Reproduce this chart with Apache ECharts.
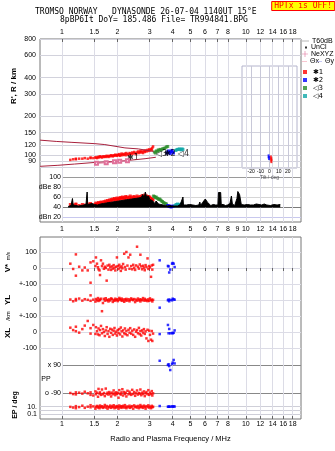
<!DOCTYPE html>
<html><head><meta charset="utf-8">
<script src="https://cdn.jsdelivr.net/npm/echarts@6/dist/echarts.min.js"></script>
<style>html,body{margin:0;padding:0;background:#fff}#c{width:335px;height:451px}</style>
</head><body><div id="c"></div>
<script>
// ---------- tick labels ----------
const freqTicks = [1,1.5,2,3,4,5,6,7,8,10,12,14,16,18];
const freqTicksDb = [1,1.5,2,3,4,5,6,7,8,9,10,12,14,16,18];
const rangeTicks = [80,90,100,120,150,200,300,400,600,800];
const dbTicks = [20,40,60,80,100];
const tiltTicks = [-20,-10,0,10,20];
const vTicks = [-100,0,100];
const ylTicks = [-100,0];
const xlTicks = [-100,0];
const ppTicks = [-90,90];
const epTicks = [0.1,1,10];

// ---------- R' panel ----------
const upperF = [0.76,0.93,1.12,1.51,1.71,2.20,2.60,3.15];
const upperR = [131,128,126,123,121,114,112,107];
const lowerF = [0.76,0.95,1.17,1.54,2.03,2.50,2.83,3.24];
const lowerR = [82,83.5,85.4,88.1,89.7,92.3,94,96.4];
const neF = [1.54,1.74,1.93,2.06,2.27];
const neR = [86.5,87.5,88.8,89.8,90.5];
const greenRF = [3.18,3.22,3.26,3.30,3.34,3.38,3.42,3.47,3.52,3.58,3.64,3.70,3.76];
const greenR = [106,104,108,107,110,109,111,110,112,113,114,116,117];
const blueRF = [3.72,3.76,3.80,3.84,3.88,3.92,3.96,4.00,4.04];
const blueR = [104,106,108,105,103,107,109,106,104];
const cyanRF = [4.15,4.20,4.25,4.30,4.35,4.40,4.45,4.50,4.55];
const cyanR = [109,110,111,111,112,111,110,112,111];
const traceLabF = [2.43,3.48,3.86,4.58];
const traceLabR = [95,103,103,103];
const traceLabTxt = ['✱1','◁3','✱2','◁4'];

// ---------- tilt inset ----------
const tiltRedX = [1.5,2,2];
const tiltRedR = [96,93,90];
const tiltBlueX = [-1,-0.5];
const tiltBlueR = [98,95];

// ---------- red echoes (trace 1) ----------
const redF = [1.11,1.15,1.19,1.19,1.24,1.29,1.33,1.38,1.43,1.43,
  1.48,1.52,1.53,1.55,1.57,1.58,1.60,1.61,1.63,1.65,
  1.67,1.69,1.71,1.73,1.75,1.77,1.79,1.81,1.83,1.85,
  1.87,1.89,1.91,1.93,1.95,1.97,1.99,2.01,2.03,2.05,
  2.07,2.09,2.11,2.13,2.15,2.18,2.20,2.22,2.24,2.27,
  2.30,2.33,2.35,2.38,2.41,2.44,2.47,2.50,2.53,2.56,
  2.59,2.62,2.65,2.67,2.70,2.73,2.76,2.79,2.82,2.85,
  2.88,2.92,2.95,2.98,3.01,3.05,3.08,3.10,3.13];
const redR = [92,93,93,94,94,94,95,94,95,96,
  95,96,96,95,97,96,97,98,97,96,
  98,97,98,97,99,98,97,99,98,100,
  99,98,100,99,101,100,99,101,100,102,
  99,101,103,100,102,101,103,100,104,102,
  101,104,103,102,105,103,106,104,102,105,
  107,104,106,108,105,107,104,108,106,109,
  107,110,108,111,109,112,110,114,117];
const redDb = [46,45,47,46,44,46,45,47,46,48,
  45,47,49,46,48,50,47,49,51,50,
  48,52,50,53,51,54,52,55,53,56,
  54,57,55,58,56,54,59,57,55,58,
  60,57,59,61,58,60,56,62,59,61,
  57,60,63,58,61,59,62,60,57,63,
  60,58,62,59,61,64,60,62,65,61,
  63,60,62,59,61,58,57,56,55];
const redV = [27,-6,85,-48,8,-15,3,-15,35,-92,
  42,12,66,27,5,-8,-15,-44,48,12,
  27,-5,8,0,-79,15,-10,20,5,-12,
  10,-4,18,2,-15,8,66,12,-6,20,
  4,-18,10,-2,25,89,6,-10,100,15,
  66,-5,83,12,-8,20,2,-12,16,133,
  8,-4,22,83,10,-8,14,2,-14,18,
  6,60,-6,12,4,-55,16,-10,20];
const redYL = [3,-8,6,-3,9,-4,5,1,29,-5,
  2,-10,6,-2,12,-6,3,-1,8,-70,
  -19,7,-4,11,-2,1,-9,4,-3,10,
  6,-12,0,-5,8,-1,4,-7,2,13,
  5,-2,9,-5,3,-11,4,-3,7,-4,
  5,-8,1,10,3,-1,6,-13,2,-4,
  9,-2,4,-9,3,-1,12,-3,7,-4,
  1,-7,4,-5,10,-1,2,-9,1];
const redXL = [27,12,33,5,-4,18,40,69,24,-10,
  44,-12,30,5,-15,22,-20,12,38,-8,
  18,0,-25,10,30,-12,6,-30,20,-5,
  15,-18,8,25,-10,2,-22,12,-6,18,
  -15,28,4,-28,10,-8,22,-14,6,-20,
  14,-4,24,-10,8,-18,16,-30,2,12,
  -8,26,-14,6,-22,10,-4,18,-12,4,
  -40,14,-56,8,-18,-48,6,-56,-10];
const redPP = [-88,-95,-84,-97,-86,-92,-80,-90,-100,-84,
  -104,-78,-96,-86,-112,-62,-92,-84,-100,-66,
  -96,-88,-108,-60,-94,-86,-98,-82,-92,-110,
  -86,-96,-72,-90,-102,-84,-94,-88,-118,-70,
  -92,-98,-84,-64,-104,-82,-94,-88,-110,-74,
  -96,-80,-92,-100,-68,-94,-82,-106,-90,-72,
  -98,-88,-92,-66,-102,-86,-94,-78,-108,-90,
  -82,-96,-70,-100,-86,-94,-76,-104,-90];
const redEP = [9,6,14,4,8,18,5,10,25,7,
  12,3,9,16,6,11,4,20,8,13,
  5,9,28,6,15,3,10,7,19,5,
  12,8,24,4,11,6,15,9,3,21,
  7,13,5,10,17,6,26,8,4,12,
  7,18,5,9,14,3,22,8,11,6,
  16,4,10,27,7,12,5,19,9,3,
  14,8,23,6,11,4,17,7,10];

// ---------- blue echoes (trace 2), lower panels ----------
const blueF = [3.40,3.77,3.80,3.83,3.88,3.97,4.00,4.05,4.10];
const blueV = [48,13,10,-28,-10,27,31,27,6];
const blueYL = [-48,-2,3,-8,1,-2,8,4,2];
const blueXL = [-13,44,-8,19,-8,-6,-8,-5,10];
const bluePP = [117,90,95,83,58,96,105,122,100];
const blueEP = [15,10,10,10,10,12,10,12,11];

// ---------- amplitude panel ----------
const blackF = [1.08,1.10,1.12,1.14,1.15,1.17,1.19,1.21,1.23,1.25,
  1.27,1.29,1.31,1.33,1.35,1.37,1.38,1.40,1.42,1.44,
  1.46,1.48,1.50,1.53,1.56,1.59,1.62,1.65,1.68,1.71,
  1.74,1.77,1.80,1.84,1.88,1.92,1.96,2.00,2.04,2.08,
  2.12,2.16,2.20,2.25,2.30,2.35,2.40,2.45,2.50,2.55,
  2.60,2.65,2.70,2.75,2.80,2.84,2.88,2.92,2.96,3.00,
  3.05,3.10,3.15,3.20,3.25,3.30,3.35,3.40,3.45,3.50,
  3.55,3.60,3.65,3.70,3.75,3.80,3.85,3.90,3.95,4.00,
  4.05,4.10,4.15,4.20,4.25,4.30,4.35,4.40,4.45,4.50,
  4.55,4.58,4.65,4.75,4.85,4.95,5.05,5.15,5.25,5.35,
  5.45,5.55,5.62,5.68,5.75,5.82,5.88,5.95,6.02,6.08,
  6.14,6.20,6.28,6.35,6.45,6.55,6.65,6.75,6.85,6.95,
  7.05,7.10,7.20,7.30,7.35,7.45,7.55,7.65,7.75,7.85,
  7.95,8.05,8.20,8.35,8.45,8.55,8.70,8.85,8.95,9.05,
  9.15,9.25,9.35,9.45,9.60,9.80,10.0,10.2,10.4,10.6,
  10.8,11.0,11.2,11.4,11.6,11.8,12.0,12.2,12.4,12.6,
  12.8,13.0,13.3,13.6,13.9,14.2,14.5,14.8,15.1,15.4];
const blackDb = [42,46,44,58,45,47,44,46,43,45,
  44,47,45,44,46,71,46,44,47,45,
  48,44,46,47,45,48,47,49,48,50,
  49,51,50,52,51,53,52,55,53,56,
  54,57,55,58,56,59,57,60,58,61,
  59,62,60,66,59,71,62,58,63,56,
  52,54,50,48,53,49,47,51,46,48,
  45,47,44,46,43,42,44,42,43,42,
  44,43,42,45,43,44,42,46,44,43,
  61,45,44,45,43,46,44,45,43,44,
  46,45,51,44,47,50,48,52,57,58,
  57,50,53,46,44,45,46,44,45,47,
  45,70,71,70,46,44,46,45,44,47,
  45,46,48,63,47,45,44,46,58,72,
  72,66,65,46,44,45,44,46,44,45,
  43,45,44,47,45,46,48,45,44,47,
  46,45,47,44,45,46,44,45,47,46];
const greenDbF = [3.15,3.18,3.22,3.25,3.28,3.32,3.36,3.40,3.44,3.48,3.52,3.56,3.60,3.65,3.70];
const greenDb = [63,62,60,61,59,58,56,57,55,53,52,50,49,48,47];
const blueDbF = [3.76,3.80,3.84,3.88,3.92,3.96,4.00,4.04];
const blueDb = [44,43,42,43,41,42,42,43];
const cyanDbF = [4.10,4.15,4.20,4.25,4.30,4.35,4.40,4.45];
const cyanDb = [43,45,46,47,45,46,44,47];

// ---------- helpers ----------
const L = Math.log10;
const XMIN = -0.1197, XMAX = 1.3003;
const RED = '#ff0000', BLUE = '#0000ff', GREEN = '#2a8c2a', CYAN = '#10a8a8';
const LIGHT = '#dcdce6', DARK = '#888888';
const FONT = 'Liberation Sans';
const lin = (fs, vs) => fs.map((f, i) => [L(f), vs[i]]);
const logb = (fs, vs) => fs.map((f, i) => [L(f), L(vs[i])]);
const fmtF = v => String(Math.round(Math.pow(10, v) * 100) / 100);
const lab = (o) => Object.assign({fontSize: 7, color: '#000', fontFamily: FONT}, o);

const grids = [
  {left: 40, right: 34, top: 39, height: 183, show: true, borderColor: '#777', borderWidth: 1}, //0 R'
  {left: 242, width: 55, top: 66, height: 102, show: true, borderColor: '#b4b4cc', borderWidth: 1}, //1 tilt
  {left: 62, right: 34, top: 177.5, height: 44.5}, //2 dB
  {left: 40, right: 34, top: 237, height: 182, show: true, borderColor: '#777', borderWidth: 1}, //3 lower frame
  {left: 40, right: 34, top: 237, height: 47}, //4 V*
  {left: 40, right: 34, top: 284, height: 32}, //5 YL
  {left: 40, right: 34, top: 316, height: 32}, //6 XL
  {left: 62, right: 34, top: 365, height: 28.3}, //7 PP
  {left: 40, right: 34, top: 406.7, height: 7.6} //8 EP
].map(g => Object.assign({outerBoundsMode: 'none', containLabel: false}, g));

const hiddenX = (gi, min) => ({type: 'value', gridIndex: gi, min: min, max: XMAX, show: false});
const xAxes = [
  {type: 'value', gridIndex: 0, position: 'top', min: XMIN, max: XMAX,
    axisLine: {show: false},
    axisTick: {show: true, inside: true, length: 3, customValues: freqTicks.map(L), lineStyle: {color: '#666'}},
    axisLabel: lab({customValues: freqTicks.map(L), formatter: fmtF, margin: 3}),
    splitLine: {show: true, lineStyle: {color: LIGHT, width: 1}}},
  {type: 'value', gridIndex: 1, min: -30, max: 30,
    axisLine: {show: false}, axisTick: {show: false, customValues: tiltTicks},
    axisLabel: lab({customValues: tiltTicks, fontSize: 5, margin: 1}),
    splitLine: {show: true, lineStyle: {color: '#c8c8d8'}},
    name: 'Tilt / deg', nameLocation: 'middle', nameGap: 7, nameTextStyle: {fontSize: 5, fontFamily: FONT}},
  {type: 'value', gridIndex: 2, position: 'bottom', min: 0, max: XMAX,
    axisLine: {show: false}, axisTick: {show: false, customValues: freqTicksDb.map(L)},
    axisLabel: lab({customValues: freqTicksDb.map(L), formatter: fmtF, margin: 4}),
    splitLine: {show: false}},
  {type: 'value', gridIndex: 3, position: 'bottom', min: XMIN, max: XMAX,
    axisLine: {show: false},
    axisTick: {show: true, inside: true, length: 3, customValues: freqTicks.map(L), lineStyle: {color: '#666'}},
    axisLabel: lab({customValues: freqTicks.map(L), formatter: fmtF, margin: 2}),
    splitLine: {show: true, lineStyle: {color: LIGHT}},
    name: 'Radio and Plasma Frequency / MHz', nameLocation: 'middle', nameGap: 16,
    nameTextStyle: {fontSize: 7.5, fontFamily: FONT, color: '#000'}},
  {type: 'value', gridIndex: 4, position: 'top', min: XMIN, max: XMAX,
    axisLine: {show: false}, axisLabel: {show: false}, splitLine: {show: false},
    axisTick: {show: true, inside: true, length: 3, customValues: freqTicks.map(L), lineStyle: {color: '#666'}}},
  hiddenX(5, XMIN), hiddenX(6, XMIN), hiddenX(7, 0), hiddenX(8, XMIN)
];

const yAxes = [
  {type: 'value', gridIndex: 0, min: 1.4812, max: 2.9031,
    axisLine: {show: false}, axisTick: {show: false, customValues: rangeTicks.map(L)},
    axisLabel: lab({customValues: rangeTicks.map(L), formatter: fmtF, margin: 4}),
    splitLine: {show: true, lineStyle: {color: '#d2d2dc'}}},
  {type: 'value', gridIndex: 1, min: 1.9008, max: 2.6933, show: false},
  {type: 'value', gridIndex: 2, min: 11, max: 100,
    axisLine: {show: false}, axisTick: {show: false, customValues: dbTicks},
    axisLabel: lab({customValues: dbTicks, margin: 1,
      formatter: v => v === 80 ? 'dBe 80' : (v === 20 ? 'dBn 20' : String(v))}),
    splitLine: {show: true, lineStyle: {color: ['#c8c8ee', '#7a7a7a', '#d6d6d6', '#d6d6d6', '#9a9a9a']}}},
  {type: 'value', gridIndex: 3, min: 0, max: 1, show: false},
  {type: 'value', gridIndex: 4, min: -100, max: 193.75,
    axisLine: {show: false}, axisTick: {show: false, customValues: vTicks},
    axisLabel: lab({customValues: vTicks, margin: 3, formatter: v => v === -100 ? '+-100' : String(v)}),
    splitLine: {show: true, lineStyle: {color: LIGHT}}},
  {type: 'value', gridIndex: 5, min: -100, max: 100,
    axisLine: {show: false}, axisTick: {show: false, customValues: ylTicks},
    axisLabel: lab({customValues: ylTicks, margin: 3, formatter: v => v === -100 ? '+-100' : String(v)}),
    splitLine: {show: true, lineStyle: {color: LIGHT}}},
  {type: 'value', gridIndex: 6, min: -100, max: 100,
    axisLine: {show: false}, axisTick: {show: false, customValues: xlTicks},
    axisLabel: lab({customValues: xlTicks, margin: 3}),
    splitLine: {show: true, lineStyle: {color: LIGHT}}},
  {type: 'value', gridIndex: 7, min: -90, max: 90,
    axisLine: {show: false}, axisTick: {show: false, customValues: ppTicks},
    axisLabel: lab({customValues: ppTicks, margin: 1, formatter: v => v > 0 ? 'x 90' : 'o -90'}),
    splitLine: {show: true, lineStyle: {color: DARK}}},
  {type: 'value', gridIndex: 8, min: -1, max: 1,
    axisLine: {show: false}, axisTick: {show: false, customValues: epTicks.map(L)},
    axisLabel: lab({customValues: epTicks.map(L), margin: 3,
      formatter: v => v > 0.5 ? '10.' : (v < -0.5 ? '0.1' : '')}),
    splitLine: {show: true, lineStyle: {color: '#cfcfd8'}}}
];

const sc = (name, gi, data, color, size, extra) => Object.assign({
  name: name, type: 'scatter', xAxisIndex: gi, yAxisIndex: gi, data: data,
  symbol: 'rect', symbolSize: size, itemStyle: {color: color}, clip: false, silent: true
}, extra || {});

const series = [
  // R' panel
  {type: 'line', xAxisIndex: 0, yAxisIndex: 0, data: logb(upperF, upperR), symbol: 'none',
    lineStyle: {color: '#a8203c', width: 1}, silent: true},
  {type: 'line', xAxisIndex: 0, yAxisIndex: 0, data: logb(lowerF, lowerR), symbol: 'none',
    lineStyle: {color: '#a8203c', width: 1}, silent: true},
  {name: 'NeXYZ', type: 'line', xAxisIndex: 0, yAxisIndex: 0, data: logb(neF, neR),
    symbol: 'emptyRect', symbolSize: 3, itemStyle: {color: '#e0709a'}, lineStyle: {color: '#e0709a', width: 1}, silent: true},
  sc('✱1', 0, logb(redF, redR), RED, 2.5),
  sc('◁3', 0, logb(greenRF, greenR), GREEN, 3),
  sc('✱2', 0, logb(blueRF, blueR), BLUE, 3),
  sc('◁4', 0, logb(cyanRF, cyanR), CYAN, 3),
  {type: 'scatter', xAxisIndex: 0, yAxisIndex: 0, silent: true, symbolSize: 0.1,
    itemStyle: {color: 'rgba(0,0,0,0)'},
    data: traceLabF.map((f, i) => ({value: [L(f), L(traceLabR[i])], txt: traceLabTxt[i]})),
    label: {show: true, position: 'inside', color: '#000', fontSize: 8, fontFamily: 'DejaVu Sans',
      formatter: p => p.data.txt}},
  // tilt inset
  sc('✱1', 1, tiltRedX.map((x, i) => [x, L(tiltRedR[i])]), RED, [2, 4]),
  sc('✱2', 1, tiltBlueX.map((x, i) => [x, L(tiltBlueR[i])]), BLUE, [2, 4]),
  // amplitude panel
  {type: 'line', xAxisIndex: 2, yAxisIndex: 2, data: lin(blackF, blackDb), symbol: 'none',
    lineStyle: {color: '#000', width: 1}, areaStyle: {color: '#000', opacity: 1, origin: 40}, silent: true},
  sc('✱1', 2, lin(redF, redDb), RED, 3),
  sc('◁3', 2, lin(greenDbF, greenDb), GREEN, 3),
  sc('✱2', 2, lin(blueDbF, blueDb), BLUE, 3),
  sc('◁4', 2, lin(cyanDbF, cyanDb), CYAN, 3),
  // lower panels
  sc('✱1', 4, lin(redF, redV), RED, 2.5), sc('✱2', 4, lin(blueF, blueV), BLUE, 2.5),
  sc('✱1', 5, lin(redF, redYL), RED, 2.5), sc('✱2', 5, lin(blueF, blueYL), BLUE, 2.5),
  sc('✱1', 6, lin(redF, redXL), RED, 2.5), sc('✱2', 6, lin(blueF, blueXL), BLUE, 2.5),
  sc('✱1', 7, lin(redF, redPP), RED, 2.5), sc('✱2', 7, lin(blueF, bluePP), BLUE, 2.5),
  sc('✱1', 8, logb(redF, redEP), RED, 2.5), sc('✱2', 8, logb(blueF, blueEP), BLUE, 2.5),
  // legend-only entries
  {name: 'T60dB', type: 'line', xAxisIndex: 3, yAxisIndex: 3, data: [], itemStyle: {color: '#999'}},
  {name: 'UnCl', type: 'scatter', xAxisIndex: 3, yAxisIndex: 3, data: [], itemStyle: {color: '#000'}},
  {name: 'Θx', type: 'line', xAxisIndex: 3, yAxisIndex: 3, data: [], itemStyle: {color: '#f08ca0'}},
  {name: 'Θy', type: 'line', xAxisIndex: 3, yAxisIndex: 3, data: [], itemStyle: {color: '#8c8ce6'}}
];

const legText = {fontSize: 7, fontFamily: FONT, color: '#000', lineHeight: 7, padding: [0, 0, 0, -2]};
const LINE_ICON = 'path://M0,4H10V5H0Z';
const row = (name, left, top, icon, w, h, extra) => Object.assign({
  orient: 'horizontal', left: left, top: top, itemGap: 0, itemWidth: w, itemHeight: h,
  selectedMode: false, textStyle: legText, padding: 0, data: [{name: name, icon: icon}]
}, extra || {});
const option = {
  animation: false,
  textStyle: {fontFamily: FONT},
  title: [
    {text: 'TROMSO NORWAY   DYNASONDE 26-07-04 1140UT 15°E', left: 35, top: 8, padding: 0,
      textStyle: {fontFamily: 'DejaVu Sans Mono', fontSize: 8, fontWeight: 'normal', color: '#000'}},
    {text: '8pBP6It DoY= 185.486 File= TR994841.BPG', left: 60, top: 16, padding: 0,
      textStyle: {fontFamily: 'DejaVu Sans Mono', fontSize: 8, fontWeight: 'normal', color: '#000'}},
    {text: 'HPTx is OFF!', right: 0, top: 1, padding: [1, 3, 1, 3], backgroundColor: '#ffff00',
      borderColor: '#ff0000', borderWidth: 1,
      textStyle: {fontFamily: 'DejaVu Sans Mono', fontSize: 8, fontWeight: 'normal', color: '#ff0000'}}
  ],
  legend: [
    row('T60dB', 302, 37.5, LINE_ICON, 7, 6),
    row('UnCl', 305, 44, 'rect', 2, 2, {textStyle: Object.assign({}, legText, {padding: [0, 0, 0, -1]})}),
    row('NeXYZ', 302, 50.5, 'path://M4.5,0H5.5V4.5H10V5.5H5.5V10H4.5V5.5H0V4.5H4.5Z', 6, 6),
    row('Θx', 302, 58, LINE_ICON, 5, 6),
    row('Θy', 317, 58, LINE_ICON, 5, 6),
    {orient: 'vertical', left: 303, top: 68, itemGap: 0, itemWidth: 4, itemHeight: 4, selectedMode: false,
      textStyle: Object.assign({}, legText, {fontFamily: 'DejaVu Sans', lineHeight: 8, padding: [0, 0, 0, 1]}),
      padding: 0, icon: 'rect',
      data: ['✱1', '✱2', '◁3', '◁4']}
  ],
  grid: grids,
  xAxis: xAxes,
  yAxis: yAxes,
  series: series,
  graphic: [
    {type: 'text', x: 14, y: 86, rotation: Math.PI / 2,
      style: {text: "R', R / km", font: 'bold 8px "Liberation Sans"', fill: '#000', textAlign: 'center', textVerticalAlign: 'middle'}},
    {type: 'text', x: 8, y: 268, rotation: Math.PI / 2,
      style: {text: 'V*', font: 'bold 8px "Liberation Sans"', fill: '#000', textAlign: 'center', textVerticalAlign: 'middle'}},
    {type: 'text', x: 9, y: 256, rotation: Math.PI / 2,
      style: {text: 'm/s', font: '5px "Liberation Sans"', fill: '#000', textAlign: 'center', textVerticalAlign: 'middle'}},
    {type: 'text', x: 8, y: 300, rotation: Math.PI / 2,
      style: {text: 'YL', font: 'bold 8px "Liberation Sans"', fill: '#000', textAlign: 'center', textVerticalAlign: 'middle'}},
    {type: 'text', x: 8, y: 316, rotation: Math.PI / 2,
      style: {text: '/km', font: '6px "Liberation Sans"', fill: '#000', textAlign: 'center', textVerticalAlign: 'middle'}},
    {type: 'text', x: 8, y: 333, rotation: Math.PI / 2,
      style: {text: 'XL', font: 'bold 8px "Liberation Sans"', fill: '#000', textAlign: 'center', textVerticalAlign: 'middle'}},
    {type: 'text', x: 46, y: 379,
      style: {text: 'PP', font: '7px "Liberation Sans"', fill: '#000', textAlign: 'center', textVerticalAlign: 'middle'}},
    {type: 'text', x: 15, y: 405, rotation: Math.PI / 2,
      style: {text: 'EP / deg', font: 'bold 7px "Liberation Sans"', fill: '#000', textAlign: 'center', textVerticalAlign: 'middle'}}
  ]
};
const chart = echarts.init(document.getElementById('c'), null, {renderer: 'canvas'});
chart.setOption(option);
</script>
</body></html>
